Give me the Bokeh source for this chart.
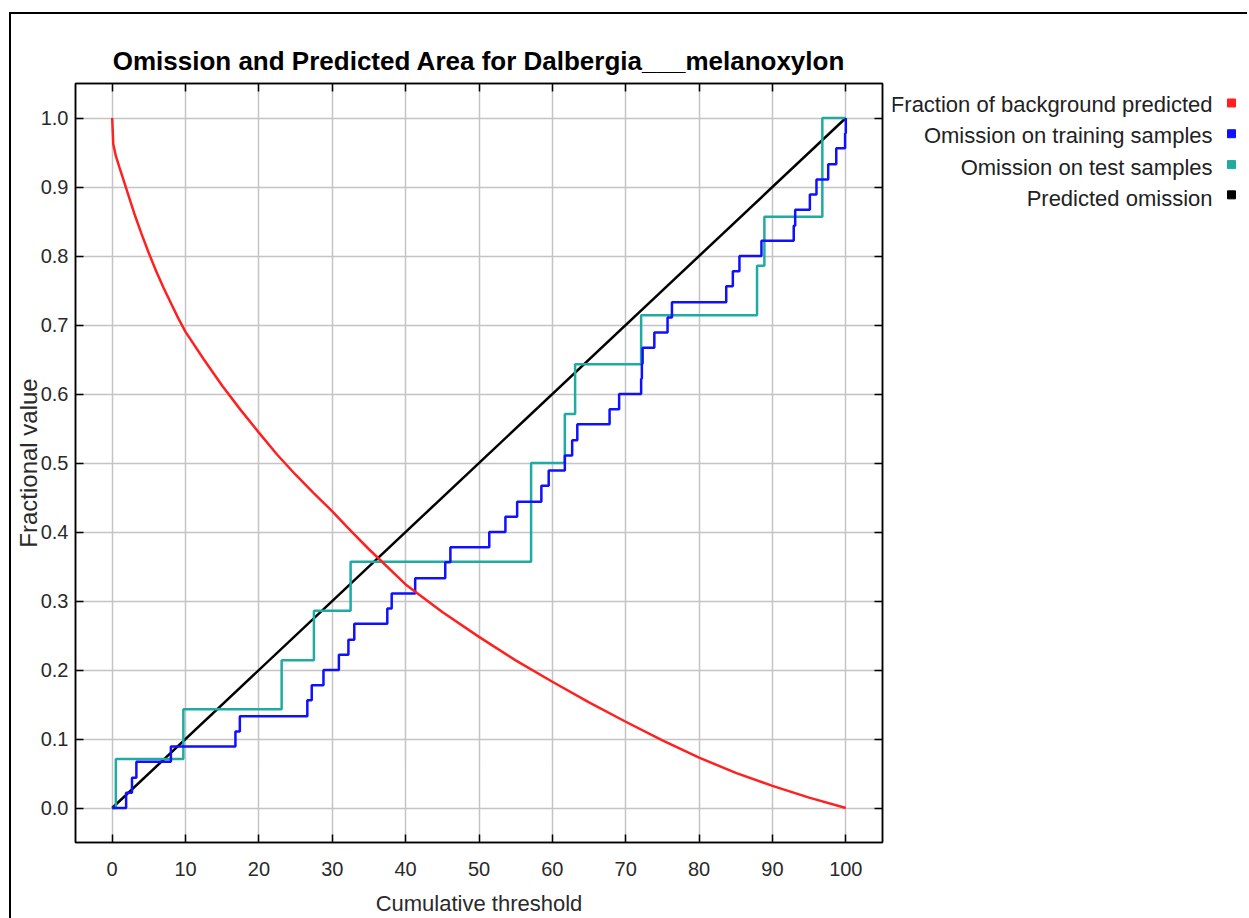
from bokeh.plotting import figure
from bokeh.layouts import row
from bokeh.models import Range1d, LinearAxis, FixedTicker, PrintfTickFormatter
from bokeh.core.properties import value
from bokeh.embed import file_html
from bokeh.resources import INLINE

# ---------------- data ----------------
title_text = "Omission and Predicted Area for Dalbergia___melanoxylon"
x_label = "Cumulative threshold"
y_label = "Fractional value"
x_ticks = [0, 10, 20, 30, 40, 50, 60, 70, 80, 90, 100]
y_ticks = [0.0, 0.1, 0.2, 0.3, 0.4, 0.5, 0.6, 0.7, 0.8, 0.9, 1.0]

series_names = ["Fraction of background predicted", "Omission on training samples",
                "Omission on test samples", "Predicted omission"]
series_colors = ["#ff2020", "#1010ff", "#20aaa4", "#000000"]

# Fraction of background predicted (red)
bg_x = [0, 0.15, 0.5, 1, 2, 3, 4, 5, 6, 7, 8, 9, 10, 12.5, 15, 17.5, 20, 22.5, 25,
        27.5, 30, 32.5, 35, 40, 45, 50, 55, 60, 65, 70, 75, 80, 85, 90, 95, 100]
bg_y = [1.0, 0.962, 0.945, 0.928, 0.895, 0.862, 0.832, 0.804, 0.778, 0.754, 0.732,
        0.71, 0.69, 0.65, 0.612, 0.577, 0.544, 0.512, 0.483, 0.456, 0.43, 0.402,
        0.375, 0.324, 0.284, 0.248, 0.214, 0.183, 0.153, 0.125, 0.098, 0.073, 0.051,
        0.032, 0.015, 0.0]

# Omission on training samples (blue), step values
train_x = [0, 1.9, 2.7, 3.3, 8.0, 16.8, 17.4, 26.6, 27.2, 28.8, 30.9, 32.2, 33.0,
           37.5, 38.1, 41.3, 45.4, 46.1, 51.4, 53.6, 55.2, 58.5, 59.5, 61.7, 62.7,
           63.4, 67.8, 69.1, 72.1, 72.2, 72.3, 73.9, 75.7, 76.3, 83.7, 84.6, 85.5,
           88.5, 92.9, 93.1, 95.1, 96.0, 97.6, 98.7, 99.9, 100]
train_y = [0.0, 0.022, 0.044, 0.067, 0.089, 0.111, 0.133, 0.156, 0.178, 0.2, 0.222,
           0.244, 0.267, 0.289, 0.311, 0.333, 0.356, 0.378, 0.4, 0.422, 0.444, 0.467,
           0.489, 0.511, 0.533, 0.556, 0.578, 0.6, 0.622, 0.644, 0.667, 0.689, 0.711,
           0.733, 0.756, 0.778, 0.8, 0.822, 0.844, 0.867, 0.889, 0.911, 0.933, 0.956,
           0.978, 1.0]

# Omission on test samples (teal), step values
test_x = [0, 0.5, 9.7, 23.1, 27.5, 32.5, 57.1, 61.7, 63.1, 72.1, 87.9, 88.9, 96.8, 100]
test_y = [0.0, 0.071, 0.143, 0.214, 0.286, 0.357, 0.5, 0.571, 0.643, 0.714, 0.786,
          0.857, 1.0, 1.0]

# Predicted omission (black)
pred_x = [0, 100]
pred_y = [0.0, 1.0]

# ---------------- main figure ----------------
FONT = "Liberation Sans"

p = figure(width=881, height=904, output_backend="svg", toolbar_location=None,
           x_range=Range1d(-5, 105), y_range=Range1d(-0.05, 1.05),
           min_border_left=64, min_border_right=10, min_border_top=69,
           min_border_bottom=71)

p.background_fill_color = "white"
p.border_fill_color = "white"
p.outline_line_color = "black"
p.outline_line_width = 1.5

p.title.text = title_text
p.title.align = "center"
p.title.text_font = FONT
p.title.text_font_size = "26px"
p.title.text_font_style = "bold"
p.title.text_color = "black"
p.title.standoff = 15


def style_axis(ax, ticks, fmt, show_labels):
    ax.ticker = FixedTicker(ticks=ticks)
    ax.formatter = PrintfTickFormatter(format=fmt)
    ax.major_tick_in = 8
    ax.major_tick_out = 0
    ax.minor_tick_line_color = None
    ax.major_tick_line_color = "black"
    ax.major_tick_line_width = 1.5
    ax.axis_line_color = "black"
    ax.axis_line_width = 1.5
    ax.major_label_text_font = FONT
    if show_labels:
        ax.major_label_text_font_size = "20px"
        ax.major_label_text_color = "#2a2a2a"
    else:
        ax.major_label_text_font_size = "2px"
        ax.major_label_text_color = None
        ax.major_label_text_alpha = 0
        ax.major_label_standoff = 0


xa = p.xaxis[0]
ya = p.yaxis[0]
style_axis(xa, x_ticks, "%d", True)
style_axis(ya, y_ticks, "%.1f", True)
xa.major_label_standoff = 19
ya.major_label_standoff = 7
xa.axis_label = x_label
ya.axis_label = y_label
for ax in (xa, ya):
    ax.axis_label_text_font = FONT
    ax.axis_label_text_font_style = "normal"
    ax.axis_label_text_color = "#2a2a2a"
xa.axis_label_text_font_size = "22px"
ya.axis_label_text_font_size = "24px"
xa.axis_label_standoff = 12
ya.axis_label_standoff = -4

top_ax = LinearAxis()
style_axis(top_ax, x_ticks, "%d", False)
p.add_layout(top_ax, "above")
right_ax = LinearAxis()
style_axis(right_ax, y_ticks, "%.1f", False)
p.add_layout(right_ax, "right")

p.xgrid.ticker = FixedTicker(ticks=x_ticks)
p.ygrid.ticker = FixedTicker(ticks=y_ticks)
for g in (p.xgrid[0], p.ygrid[0]):
    g.grid_line_color = "#c4c4c4"
    g.grid_line_width = 1.5

# series, bottom to top
p.line(pred_x, pred_y, line_color=series_colors[3], line_width=2.5)
p.step(test_x, test_y, mode="after", line_color=series_colors[2], line_width=2.5)
p.step(train_x, train_y, mode="after", line_color=series_colors[1], line_width=2.5)
p.line(bg_x, bg_y, line_color=series_colors[0], line_width=2.5)

# ---------------- legend panel (labels right aligned, swatch on the right) ----------------
# the panel's frame is aligned with the main frame; its ranges are in page pixels
leg = figure(width=355, height=904, output_backend="svg", toolbar_location=None,
             x_range=Range1d(892, 1247), y_range=Range1d(843, 83),
             x_axis_type=None, y_axis_type=None, min_border=0, title=None)
leg.outline_line_color = None
leg.background_fill_color = "white"
leg.border_fill_color = "white"
leg.xgrid.visible = False
leg.ygrid.visible = False

legend_text_y = [104, 135.5, 167, 198.5]
legend_swatch_y = [102.5, 133.3, 164.2, 194.5]
leg.text(x=[1212] * 4, y=legend_text_y, text=series_names, text_align="right",
         text_baseline="middle", text_font=value(FONT), text_font_size="22px",
         text_color="#222222")
leg.scatter(x=[1231] * 4, y=legend_swatch_y, marker="square", size=8,
            fill_color=series_colors, line_color=series_colors)

layout = row(p, leg, spacing=0,
             styles={"border-left": "2px solid black", "border-top": "2px solid black",
                     "position": "relative", "left": "9px", "top": "12px"})

open("out.html", "w").write(file_html(layout, INLINE))
